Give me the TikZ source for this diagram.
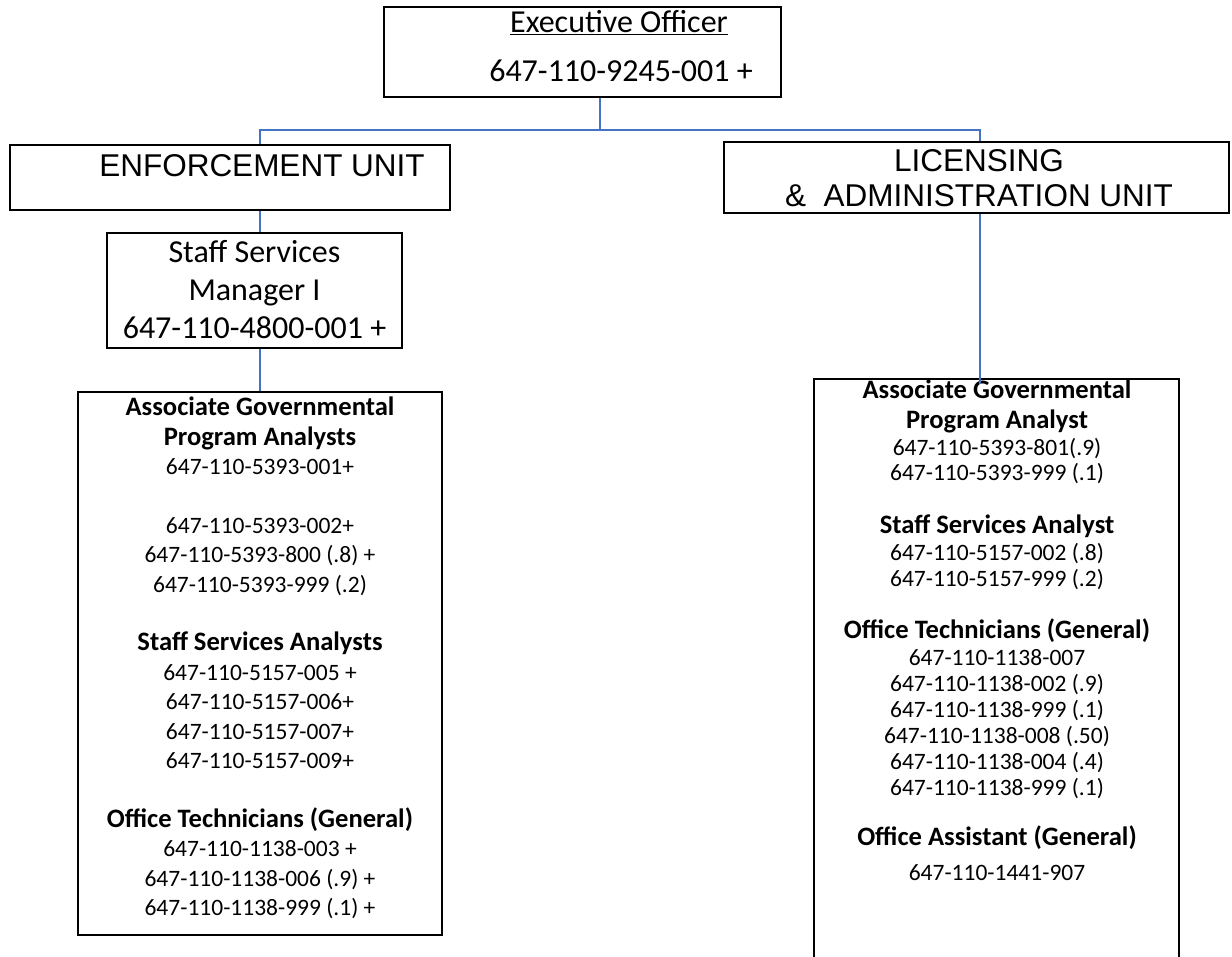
\documentclass[tikz,border=0pt]{standalone}
\usepackage{fontspec}
\setmainfont{Carlito}
\newfontfamily\arialf{Liberation Sans}
\definecolor{connblue}{HTML}{4472C4}
\newcommand{\lhead}[1]{{\fontsize{26.6}{29.4}\selectfont\bfseries #1}}
\newcommand{\rhead}[1]{{\fontsize{26.6}{26}\selectfont\bfseries #1}}
\tikzset{
  box/.style={draw=black, line width=1.3pt, rectangle, inner sep=0pt},
  conn/.style={draw=connblue, line width=1.3pt},
  bigtxt/.style={font=\fontsize{32}{38}\selectfont, anchor=base, inner sep=0pt, align=center},
  unittxt/.style={font=\arialf\fontsize{31.5}{35}\selectfont, anchor=base, inner sep=0pt, align=center},
  listtxt/.style={font=\fontsize{23.5}{29.4}\selectfont, anchor=base, inner sep=0pt, align=center},
  rlisttxt/.style={font=\fontsize{23.5}{26}\selectfont, anchor=base, inner sep=0pt, align=center}
}
\begin{document}
\begin{tikzpicture}[x=1pt,y=-1pt]
\useasboundingbox (0,0) rectangle (1232,957);
\clip (0,0) rectangle (1232,957);
\fill[white] (0,0) rectangle (1232,957);
% boxes
\node[box, minimum width=397pt, minimum height=90pt] (exec) at (582.5,52) {};
\node[box, minimum width=440pt, minimum height=65pt] (enf) at (230,177.5) {};
\node[box, minimum width=295pt, minimum height=115pt] (ssm) at (254.5,290.5) {};
\node[box, minimum width=364pt, minimum height=543pt] (lbox) at (260,663.5) {};
\node[box, minimum width=505pt, minimum height=71pt] (lic) at (976.5,177.5) {};
\node[box, minimum width=365pt, minimum height=590pt] (rbox) at (996.5,674) {};
% texts (multi-line nodes: base = last line)
\node[bigtxt] (t1) at (619,33) {\underline{Executive Officer}};
\node[bigtxt] (t2) at (621,82) {647-110-9245-001 +};
\node[unittxt] (t3) at (262,176.5) {ENFORCEMENT UNIT};
\node[unittxt] (t4) at (979,206.5) {LICENSING\\\&\ \ ADMINISTRATION UNIT};
\node[bigtxt] (t5) at (254.5,339) {Staff Services\\Manager I\\647-110-4800-001 +};
\node[listtxt] (t6) at (260,915.5) {\lhead{Associate Governmental}\\\lhead{Program Analysts}\\647-110-5393-001+\\[29.4pt]647-110-5393-002+\\647-110-5393-800 (.8) +\\647-110-5393-999 (.2)\\[29.4pt]\lhead{Staff Services Analysts}\\647-110-5157-005 +\\647-110-5157-006+\\647-110-5157-007+\\647-110-5157-009+\\[29.4pt]\lhead{Office Technicians (General)}\\647-110-1138-003 +\\647-110-1138-006 (.9) +\\647-110-1138-999 (.1) +};
\node[rlisttxt] (t7) at (997,880) {\rhead{Associate Governmental}\\[4pt]\rhead{Program Analyst}\\[1pt]647-110-5393-801(.9)\\[-1pt]647-110-5393-999 (.1)\\[27pt]\rhead{Staff Services Analyst}\\[1pt]647-110-5157-002 (.8)\\647-110-5157-999 (.2)\\[26pt]\rhead{Office Technicians (General)}\\[1pt]647-110-1138-007\\647-110-1138-002 (.9)\\647-110-1138-999 (.1)\\647-110-1138-008 (.50)\\647-110-1138-004 (.4)\\647-110-1138-999 (.1)\\[24pt]\rhead{Office Assistant (General)}\\[9pt]647-110-1441-907};
% connectors
\coordinate (j) at (600,130);
\coordinate (hl) at (260,130);
\coordinate (hr) at (980,130);
\draw[conn] (exec.south -| j) -- (j);
\draw[conn] (enf.north -| hl) -- (hl) -- (hr) -- (lic.north -| hr);
\draw[conn] (enf.south -| hl) -- (ssm.north -| hl);
\draw[conn] (ssm.south -| hl) -- (lbox.north -| hl);
\draw[conn] (lic.south -| hr) -- ([yshift=-6pt]rbox.north -| hr);
\end{tikzpicture}
\end{document}
